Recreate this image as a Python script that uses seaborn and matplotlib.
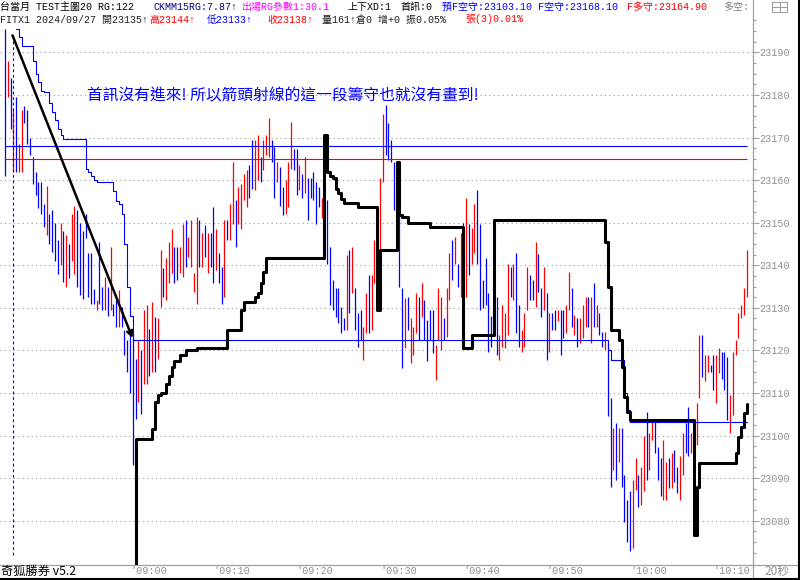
import matplotlib
matplotlib.use("Agg")
import matplotlib.pyplot as plt
import seaborn as sns
import pandas as pd
from matplotlib.lines import Line2D
from matplotlib.patches import Rectangle
from matplotlib.transforms import blended_transform_factory

# ---------------- data (20-second bars, bar 0 = 08:45:00) ----------------
bar_high = [
    23195.5, 23188.0, 23184.0, 23176.5, 23179.5, 23168.5, 23176.5, 23177.5, 23176.5, 23170.0,
    23165.5, 23162.0, 23159.5, 23159.5, 23154.5, 23158.5, 23152.0, 23153.0, 23150.0, 23146.0,
    23150.0, 23148.0, 23147.0, 23145.0, 23152.0, 23154.0, 23153.0, 23150.0, 23148.0, 23152.0,
    23142.8, 23142.8, 23134.5, 23131.8, 23145.5, 23135.0, 23137.3, 23135.0, 23144.3, 23131.0,
    23131.8, 23134.2, 23130.3, 23124.8, 23122.4, 23125.0, 23124.0, 23118.0, 23122.4, 23120.0,
    23129.5, 23130.7, 23125.0, 23131.4, 23127.9, 23127.5, 23143.6, 23139.3, 23141.6, 23145.5,
    23148.6, 23144.3, 23144.3, 23144.3, 23149.8, 23150.6, 23146.7, 23150.6, 23138.1, 23151.4,
    23150.6, 23147.5, 23149.4, 23147.5, 23147.5, 23153.7, 23148.6, 23142.8, 23139.7, 23150.6,
    23150.6, 23154.5, 23164.3, 23155.3, 23158.4, 23159.2, 23161.5, 23162.3, 23163.5, 23169.4,
    23169.5, 23170.5, 23165.5, 23169.4, 23170.5, 23174.5, 23169.4, 23167.8, 23164.3, 23163.0,
    23158.4, 23160.0, 23164.3, 23173.7, 23167.4, 23167.4, 23163.5, 23161.5, 23165.5, 23160.4,
    23160.4, 23161.9, 23159.6, 23158.4, 23155.7, 23156.5, 23155.3, 23144.3, 23136.5, 23134.6,
    23134.6, 23130.3, 23127.5, 23142.4, 23143.6, 23144.3, 23134.6, 23128.7, 23129.5, 23125.6,
    23133.4, 23137.7, 23137.7, 23145.9, 23145.9, 23160.4, 23175.6, 23177.6, 23173.3, 23169.4,
    23164.3, 23158.4, 23158.0, 23134.6, 23132.2, 23132.6, 23127.5, 23125.6, 23133.4, 23132.6,
    23135.8, 23131.8, 23127.1, 23129.5, 23129.5, 23121.3, 23134.6, 23132.6, 23127.5, 23134.6,
    23142.8, 23145.9, 23146.7, 23140.4, 23147.5, 23150.0, 23155.7, 23149.8, 23148.7, 23154.5,
    23157.7, 23149.8, 23136.5, 23141.6, 23133.4, 23128.0, 23133.0, 23132.6, 23123.6, 23130.7,
    23128.7, 23140.4, 23139.7, 23140.4, 23142.8, 23130.7, 23124.8, 23128.7, 23139.7, 23137.7,
    23136.5, 23145.5, 23142.6, 23134.6, 23139.5, 23133.4, 23128.7, 23128.7, 23129.5, 23129.5,
    23129.5, 23129.5, 23130.7, 23138.5, 23134.6, 23128.3, 23127.5, 23127.5, 23130.7, 23132.6,
    23132.6, 23132.6, 23135.8, 23130.7, 23128.7, 23124.4, 23124.4, 23121.7, 23108.8, 23101.7,
    23102.9, 23101.7, 23101.7, 23090.8, 23084.9, 23086.9, 23089.6, 23094.7, 23090.8, 23092.7,
    23099.8, 23105.6, 23100.5, 23103.7, 23103.7, 23097.4, 23094.7, 23099.0, 23093.9, 23094.7,
    23095.9, 23096.6, 23092.7, 23095.1, 23100.5, 23102.9, 23106.8, 23100.5, 23104.0, 23107.6,
    23123.6, 23123.6, 23118.9, 23118.9, 23116.6, 23118.9, 23118.9, 23120.5, 23119.7, 23119.7,
    23118.5, 23109.5, 23119.7, 23122.4, 23128.7, 23130.7, 23134.6, 23143.6,
]
bar_low = [
    23161.0, 23179.5, 23172.0, 23162.0, 23162.0, 23162.0, 23162.0, 23173.5, 23168.5, 23166.0,
    23159.0, 23156.5, 23153.5, 23152.0, 23149.0, 23147.0, 23145.0, 23143.0, 23141.0, 23138.0,
    23140.0, 23136.0, 23135.0, 23137.0, 23141.0, 23138.0, 23135.0, 23133.0, 23132.0, 23146.5,
    23132.6, 23131.0, 23131.0, 23129.5, 23131.0, 23129.5, 23129.5, 23128.0, 23129.5, 23128.0,
    23125.6, 23125.6, 23125.6, 23119.0, 23115.0, 23110.0, 23093.0, 23104.0, 23108.0, 23105.0,
    23112.0, 23112.0, 23114.0, 23115.0, 23115.0, 23118.0, 23130.3, 23132.6, 23131.8, 23135.8,
    23138.1, 23135.8, 23136.5, 23138.1, 23137.3, 23139.7, 23142.0, 23139.7, 23133.8, 23131.0,
    23139.7, 23139.7, 23142.0, 23138.1, 23139.7, 23135.8, 23138.9, 23135.8, 23131.0, 23132.6,
    23145.9, 23145.9, 23149.8, 23144.3, 23149.8, 23148.6, 23155.3, 23153.7, 23155.7, 23158.0,
    23157.6, 23160.0, 23159.6, 23162.3, 23165.9, 23165.5, 23164.3, 23155.7, 23159.6, 23154.0,
    23151.8, 23152.0, 23153.7, 23162.7, 23162.3, 23156.5, 23157.6, 23155.7, 23156.9, 23150.6,
    23155.7, 23155.3, 23149.8, 23153.7, 23151.0, 23153.7, 23140.4, 23130.7, 23129.5, 23127.9,
    23126.4, 23124.0, 23124.8, 23124.8, 23128.7, 23133.4, 23124.8, 23120.9, 23122.4, 23117.8,
    23124.0, 23124.0, 23124.8, 23135.8, 23142.0, 23142.0, 23159.6, 23165.9, 23164.7, 23164.3,
    23153.0, 23151.8, 23135.0, 23115.8, 23120.5, 23124.8, 23117.0, 23118.9, 23124.0, 23122.4,
    23127.9, 23122.4, 23117.4, 23122.4, 23119.3, 23113.1, 23122.4, 23120.1, 23122.4, 23123.2,
    23131.8, 23136.5, 23140.4, 23135.0, 23132.6, 23140.0, 23132.6, 23137.7, 23140.4, 23142.8,
    23140.4, 23129.5, 23129.9, 23130.7, 23119.7, 23120.9, 23123.6, 23119.0, 23117.8, 23120.9,
    23120.5, 23123.6, 23132.6, 23131.8, 23124.0, 23120.9, 23119.7, 23120.9, 23129.5, 23131.8,
    23131.8, 23130.3, 23133.8, 23127.9, 23129.5, 23117.8, 23119.7, 23124.8, 23124.8, 23126.8,
    23119.0, 23122.9, 23124.0, 23129.5, 23125.6, 23123.6, 23120.9, 23121.7, 23122.9, 23125.6,
    23125.6, 23121.7, 23125.6, 23125.6, 23123.6, 23120.9, 23120.1, 23104.5, 23088.0, 23092.0,
    23089.6, 23093.9, 23088.0, 23079.8, 23075.1, 23072.8, 23073.6, 23087.2, 23083.3, 23083.7,
    23086.9, 23089.6, 23092.0, 23099.0, 23095.9, 23089.6, 23085.7, 23084.9, 23084.9, 23087.6,
    23087.6, 23089.2, 23086.5, 23084.9, 23090.8, 23095.9, 23095.1, 23095.9, 23096.0, 23097.8,
    23108.8, 23113.8, 23112.7, 23115.0, 23115.0, 23110.7, 23107.6, 23114.6, 23113.4, 23110.7,
    23103.7, 23100.5, 23104.8, 23118.9, 23122.8, 23127.5, 23128.3, 23132.6,
]
# u = up bar (red), d = down bar (blue)
bar_dir = """
d u d u d u u d d d   d d d d d u d d d d   u d u d u u d d d d   d d d u d d u d u d
d u d d d d d d u d   u u d u d u u d u u   u d d u u d u u u u   d u d u d d u d d u
d u u d u u u u d d   u u d u u u d d u d   d u u u d d u d u d   d d d d u u d d d d
d d d u d u d d d u   u d u u u u u d d d   d d d d u d u u u d   u d d d d u u u d u
u d u d u d u d u u   d d d d d d d d u u   u u d u d d u u u d   d u d d u d u d d u
d d u u d u d u u u   d u d u d d u d d u   d u d d d d u u d u   u d u u d d d u u d
u d d u u d d u d u   u d u u d d u u d d   d u u u u u u u
""".split()

# blue protective-stop step line (bar index, price)
blue_stop_bar = [4, 5, 6, 10, 11, 12, 13, 14, 16, 17, 18, 19, 20, 21, 29, 30, 31, 32, 33,
                 39, 40, 41, 42, 43, 44, 45, 46, 217, 218, 223, 224, 225, 267]
blue_stop_val = [23195.5, 23193.5, 23191.6, 23188.0, 23185.0, 23183.0, 23181.0, 23180.7,
                 23178.0, 23176.0, 23174.0, 23172.0, 23170.5, 23169.7, 23162.7, 23162.0,
                 23161.0, 23160.0, 23159.6, 23157.5, 23155.0, 23154.5, 23152.0, 23145.0,
                 23135.0, 23128.0, 23122.5, 23120.0, 23117.7, 23110.0, 23106.0, 23103.1, 23103.1]

# black trailing-stop line (bar index, price)
black_stop_bar = [46, 47, 53, 54, 55, 56, 58, 59, 60, 61, 63, 65, 69, 80, 85, 86, 90, 91, 92,
                  93, 94, 115, 116, 117, 118, 119, 120, 121, 122, 127, 134, 135, 141, 142, 143,
                  145, 153, 165, 168, 176, 216, 217, 218, 221, 222, 223, 224, 225, 248, 249,
                  250, 263, 264, 265, 266, 267]
black_stop_val = [23060.0, 23099.2, 23101.5, 23108.0, 23109.5, 23110.0, 23112.0, 23114.0,
                  23116.0, 23117.5, 23119.0, 23120.0, 23120.5, 23124.8, 23129.5, 23131.4,
                  23132.6, 23133.5, 23135.8, 23138.4, 23141.6, 23170.5, 23162.0, 23161.0,
                  23160.5, 23158.0, 23157.0, 23155.5, 23154.6, 23153.7, 23129.5, 23143.6,
                  23164.3, 23151.8, 23151.4, 23150.0, 23149.0, 23120.6, 23123.6, 23150.6,
                  23145.5, 23135.0, 23124.8, 23122.5, 23116.0, 23109.0, 23105.5, 23103.7,
                  23076.7, 23088.0, 23093.6, 23096.0, 23099.7, 23102.0, 23105.3, 23107.5]

short_guard = 23168.10   # F空守
long_guard = 23164.90    # F多守
session_mark_bar = 2.75
arrow_start = (2.7, 23194.0)
arrow_end = (45.9, 23122.9)

y_ticks = [23080, 23090, 23100, 23110, 23120, 23130, 23140, 23150, 23160, 23170, 23180, 23190]
time_tick_bars = [45, 75, 105, 135, 165, 195, 225, 255]
time_tick_labels = ["'09:00", "'09:10", "'09:20", "'09:30", "'09:40", "'09:50", "'10:00", "'10:10"]

header_line1 = [("台當月 TEST主圖20 RG:122", "#000000"), ("CKMM15RG:7.87↑", "#000080"),
                ("出場RG參數1:30.1", "#ff00ff"), ("上下XD:1", "#000000"), ("首訊:0", "#000000"),
                ("預F空守:23103.10 F空守:23168.10", "#0000ff"), ("F多守:23164.90", "#ff0000"),
                ("多空:", "#808080")]
header_line2 = [("FITX1 2024/09/27 開23135↑", "#202020"), ("高23144↑", "#ff0000"),
                ("低23133↑", "#0000ff"), ("收23138↑", "#ff0000"),
                ("量161↑倉0 增+0 振0.05%", "#202020"), ("張(3)0.01%", "#ff0000")]
note_text = "首訊沒有進來! 所以箭頭射線的這一段籌守也就沒有畫到!"
footer_text = "奇狐勝券 v5.2"
period_text = "20秒"

# ---------------- layout ----------------
sns.set_theme(style="white")
MONO = ["Liberation Mono", "Noto Sans CJK TC", "DejaVu Sans"]
CJK = ["Noto Sans CJK TC", "DejaVu Sans"]
plt.rcParams["font.family"] = MONO

W, H = 800, 580
def fx(px):
    return px / W
def fy(py):
    return 1 - py / H

fig = plt.figure(figsize=(8, 5.8), dpi=100)
fig.patch.set_facecolor("white")
ax = fig.add_axes([0, fy(565), fx(753), fy(0) - fy(565)])
ax.set_facecolor("white")
ax.set_xlim(-1.8, 269.3)
ax.set_ylim(23069.6, 23202.3)

df = pd.DataFrame({"bar": range(len(bar_high)), "high": bar_high, "low": bar_low,
                   "dir": bar_dir[:len(bar_high)]})
colors = ["#ff0000" if d == "u" else "#0000ff" for d in df["dir"]]

# grid
ax.set_yticks(y_ticks)
ax.set_yticks([v + k * 2.5 for v in [23070] + y_ticks for k in (1, 2, 3)], minor=True)
ax.grid(axis="y", which="major", color="#9a9a9a", linestyle=(0, (1, 3)), linewidth=0.8)
ax.grid(axis="x", visible=False)

# bars
ax.vlines(df["bar"], df["low"], df["high"], colors=colors, linewidth=0.9, zorder=3)

# guard levels
ax.hlines(short_guard, 0, len(bar_high) - 1, color="#0000ff", linewidth=0.8, zorder=4)
ax.hlines(long_guard, 0, len(bar_high) - 1, color="#ff0000", linewidth=0.8, zorder=4)

# session marker
ax.vlines(session_mark_bar, 23072, 23194.5, color="#0000ff", linewidth=0.8,
          linestyles=(0, (2.5, 2.5)), zorder=4)

# stop lines
sns.lineplot(x=blue_stop_bar, y=blue_stop_val, ax=ax, color="#0000ff", linewidth=0.8,
             drawstyle="steps-post", estimator=None, sort=False, zorder=5)
sns.lineplot(x=black_stop_bar, y=black_stop_val, ax=ax, color="#000000", linewidth=2.2,
             drawstyle="steps-post", estimator=None, sort=False, zorder=6)

# arrow ray
ax.annotate("", xy=arrow_end, xytext=arrow_start,
            arrowprops=dict(arrowstyle="->", color="black", lw=1.8, mutation_scale=9,
                            shrinkA=0, shrinkB=0), zorder=7)

# axes styling
for s in ["top", "left", "bottom"]:
    ax.spines[s].set_visible(False)
ax.spines["right"].set_color("#a0a0a0")
ax.spines["right"].set_linewidth(0.9)
ax.yaxis.tick_right()
ax.tick_params(axis="y", which="major", length=4, width=0.8, color="#a0a0a0",
               labelcolor="#909090", labelsize=7.3, pad=0.5, direction="out")
ax.tick_params(axis="y", which="minor", length=2, width=0.8, color="#a0a0a0",
               direction="out")
ax.set_xticks([])
ax.set_xlabel("")
ax.set_ylabel("")
for lbl in ax.get_yticklabels():
    lbl.set_fontfamily(MONO)

# time labels under the chart
time_tr = blended_transform_factory(ax.transData, fig.transFigure)
for b, t in zip(time_tick_bars, time_tick_labels):
    ax.text(b, fy(571.5), t, transform=time_tr, ha="left", va="center", color="#909090",
            fontsize=7.3, fontfamily=MONO, clip_on=False)

# header texts
line1_x = [0, 153, 242, 348, 400, 442, 627, 723]
line2_x = [0, 149, 207, 267, 322, 465]
for (txt, col), px in zip(header_line1, line1_x):
    fig.text(fx(px), fy(7), txt, color=col, fontsize=7.2, fontfamily=MONO,
             ha="left", va="center")
for (txt, col), px in zip(header_line2, line2_x):
    fig.text(fx(px), fy(19.5), txt, color=col, fontsize=7.2, fontfamily=MONO,
             ha="left", va="center")

# annotation note
fig.text(fx(87), fy(96), note_text, color="#0000ff", fontsize=11.3, fontfamily=CJK,
         ha="left", va="center")

# footer
fig.text(fx(1), fy(571.5), footer_text, color="#000000", fontsize=8.8, fontfamily=CJK,
         ha="left", va="center")
fig.text(fx(764), fy(571.5), period_text, color="#909090", fontsize=8.5, fontfamily=CJK,
         ha="left", va="center")

# frame lines
fig.add_artist(Line2D([fx(0), fx(799)], [fy(565), fy(565)], color="#a0a0a0", lw=0.9))
fig.add_artist(Line2D([fx(753), fx(753)], [fy(565), fy(578)], color="#a0a0a0", lw=0.9))
fig.add_artist(Line2D([fx(798.5), fx(798.5)], [fy(0), fy(579)], color="#000000", lw=1.5))
fig.add_artist(Line2D([fx(0), fx(799)], [fy(578.5), fy(578.5)], color="#000000", lw=1.5))
# small panel icon
fig.add_artist(Rectangle((fx(772), fy(12)), fx(15), 10 / H, fill=False,
                         edgecolor="#a0a0a0", lw=0.8))
fig.add_artist(Line2D([fx(772), fx(787)], [fy(7), fy(7)], color="#a0a0a0", lw=0.8))
fig.add_artist(Line2D([fx(779.5), fx(779.5)], [fy(2), fy(12)], color="#a0a0a0", lw=0.8))

fig.savefig("out.png", dpi=100, facecolor="white")
